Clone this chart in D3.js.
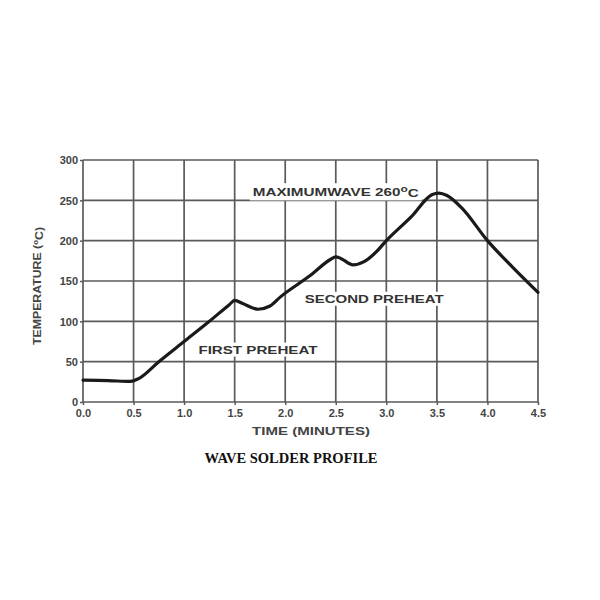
<!DOCTYPE html>
<html>
<head>
<meta charset="utf-8">
<script src="https://cdnjs.cloudflare.com/ajax/libs/d3/7.8.5/d3.min.js"></script>
<style>
  body { margin: 0; background: #fff; }
</style>
</head>
<body>
<svg></svg>
<script>
// wave solder profile
var times = [0.0, 0.25, 0.47, 0.55, 0.75, 1.0, 1.25, 1.45, 1.5, 1.58, 1.73, 1.85, 1.95, 2.25, 2.45, 2.5, 2.55, 2.67, 2.78, 2.9, 3.0, 3.25, 3.45, 3.52, 3.6, 3.75, 4.0, 4.25, 4.5];
var temps = [27, 26.5, 25.5, 29, 50, 75, 100, 121, 126, 122, 115, 119, 130, 157, 177, 180, 178, 170, 174, 186, 200, 230, 257, 259, 256, 240, 200, 167, 136];
var xTicks = [0, 0.5, 1, 1.5, 2, 2.5, 3, 3.5, 4, 4.5];
var yTicks = [0, 50, 100, 150, 200, 250, 300];
var notes = ["MAXIMUMWAVE 260", "SECOND PREHEAT", "FIRST PREHEAT"];

var svgWidth = 600, svgHeight = 600;
var margin = { top: 160, left: 83 };
var width = 455, height = 242;

var svg = d3.select("svg")
    .attr("width", svgWidth)
    .attr("height", svgHeight);

svg.append("rect")
    .attr("width", "100%")
    .attr("height", "100%")
    .attr("fill", "white");

var g = svg.append("g")
    .attr("transform", "translate(" + margin.left + "," + margin.top + ")");

var x = d3.scaleLinear().domain([0, 4.5]).range([0, width]);
var y = d3.scaleLinear().domain([0, 300]).range([height, 0]);

// grid
g.append("g").selectAll("line")
    .data(xTicks)
    .join("line")
    .attr("x1", d => x(d)).attr("x2", d => x(d))
    .attr("y1", 0).attr("y2", height)
    .attr("stroke", "#5a5a5a")
    .attr("stroke-width", 1.7);

g.append("g").selectAll("line")
    .data(yTicks)
    .join("line")
    .attr("x1", 0).attr("x2", width)
    .attr("y1", d => y(d)).attr("y2", d => y(d))
    .attr("stroke", "#5a5a5a")
    .attr("stroke-width", 1.7);

// axes (labels only, short ticks outward)
var xAxis = g.append("g")
    .attr("transform", "translate(0," + height + ")")
    .call(d3.axisBottom(x).tickValues(xTicks).tickFormat(d3.format(".1f")).tickSize(3).tickPadding(4));
var yAxis = g.append("g")
    .call(d3.axisLeft(y).tickValues(yTicks).tickSize(3).tickPadding(2));

[xAxis, yAxis].forEach(function (a) {
    a.select(".domain").remove();
    a.selectAll("line").attr("stroke", "#5a5a5a").attr("stroke-width", 1.5);
    a.selectAll("text")
        .attr("font-family", "Liberation Sans, Arial, sans-serif")
        .attr("font-weight", "bold")
        .attr("font-size", "11px")
        .attr("fill", "#444");
});
yAxis.selectAll("text").attr("dy", "0.35em");

// annotations on white boxes that cut the grid
var notesLayer = g.append("g");
function note(txt, cx, baseline, len, sup) {
    var grp = notesLayer.append("g");
    var box = grp.append("rect").attr("fill", "white");
    var t = grp.append("text")
        .attr("x", cx)
        .attr("y", baseline)
        .attr("text-anchor", "middle")
        .attr("font-family", "Liberation Sans, Arial, sans-serif")
        .attr("font-weight", "bold")
        .attr("font-size", "11.5px")
        .attr("fill", "#333");
    t.append("tspan").text(txt);
    if (sup) {
        t.append("tspan").attr("dy", "-0.45em").attr("font-size", "9px").text("o");
        t.append("tspan").attr("dy", "0.45em").text("C");
    }
    t.attr("textLength", len).attr("lengthAdjust", "spacingAndGlyphs");
    var b = t.node().getBBox();
    box.attr("x", b.x - 3).attr("y", b.y - 1)
        .attr("width", b.width + 6).attr("height", b.height + 2);
}

note(notes[0], x(2.50), y(260) + 4, 166, true);
note(notes[1], x(2.88), y(128) + 4, 139, false);
note(notes[2], x(1.73), y(65) + 4, 119, false);

// curve
var line = d3.line()
    .x(d => x(d[0]))
    .y(d => y(d[1]))
    .curve(d3.curveMonotoneX);

var pts = times.map((t, i) => [t, temps[i]]);

g.append("path")
    .datum(pts)
    .attr("fill", "none")
    .attr("stroke", "#1a1a1a")
    .attr("stroke-width", 3.2)
    .attr("stroke-linejoin", "round")
    .attr("stroke-linecap", "round")
    .attr("d", line);

// axis titles
var yt = svg.append("text")
    .attr("transform", "translate(41,286) rotate(-90)")
    .attr("text-anchor", "middle")
    .attr("font-family", "Liberation Sans, Arial, sans-serif")
    .attr("font-weight", "bold")
    .attr("font-size", "11px")
    .attr("fill", "#444")
    .attr("textLength", 118)
    .attr("lengthAdjust", "spacingAndGlyphs");
yt.append("tspan").text("TEMPERATURE (");
yt.append("tspan").attr("dy", "-0.45em").attr("font-size", "7px").text("o");
yt.append("tspan").attr("dy", "0.45em").text("C)");

svg.append("text")
    .attr("x", 311)
    .attr("y", 435)
    .attr("text-anchor", "middle")
    .attr("font-family", "Liberation Sans, Arial, sans-serif")
    .attr("font-weight", "bold")
    .attr("font-size", "11px")
    .attr("fill", "#444")
    .attr("textLength", 118)
    .attr("lengthAdjust", "spacingAndGlyphs")
    .text("TIME (MINUTES)");

svg.append("text")
    .attr("x", 291)
    .attr("y", 463)
    .attr("text-anchor", "middle")
    .attr("font-family", "Liberation Serif, Times New Roman, serif")
    .attr("font-weight", "bold")
    .attr("font-size", "14.5px")
    .attr("fill", "#111")
    .text("WAVE SOLDER PROFILE");
</script>
</body>
</html>
